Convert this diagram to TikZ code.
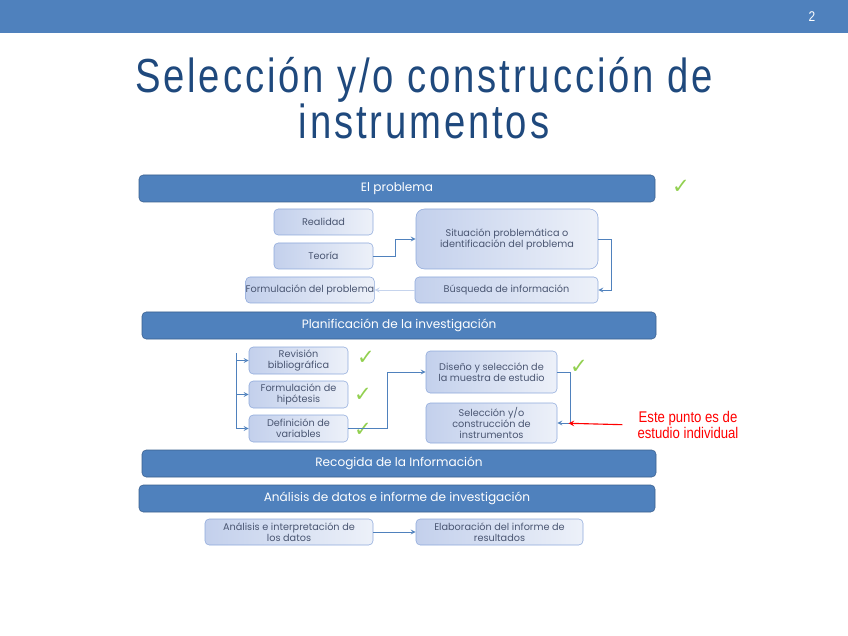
\documentclass[tikz,border=0pt]{standalone}
\usepackage{fontspec}
\setmainfont{Poppins}
\newfontfamily\titlefont[FakeStretch=0.8, LetterSpace=6]{Liberation Sans}
\newfontfamily\notefont[FakeStretch=0.85]{Liberation Sans}
\newfontfamily\symfont{DejaVu Sans}
\definecolor{barblue}{HTML}{4F81BD}
\definecolor{bardark}{HTML}{3A5F8E}
\definecolor{titleblue}{HTML}{1F497D}
\definecolor{boxline}{HTML}{8EA9DB}
\definecolor{boxleft}{HTML}{C3D0EC}
\definecolor{boxright}{HTML}{EDF1F9}
\definecolor{boxtext}{HTML}{4A5672}
\definecolor{tickgreen}{HTML}{92D050}
\definecolor{notered}{HTML}{FF0000}
\begin{document}
\begin{tikzpicture}
	[x=0.025cm, y=-0.025cm,
	sz/.style 2 args = {minimum width=#1*0.025cm, minimum height=#2*0.025cm},
	bar/.style = {draw=bardark, fill=barblue, rounded corners=3pt, inner sep=0pt,
		text=white, font=\fontsize{8.6}{10}\selectfont},
	box/.style = {draw=boxline, left color=boxleft, right color=boxright,
		rounded corners=3pt, inner sep=0pt, align=center, text=boxtext,
		font=\fontsize{6.9}{7.8}\selectfont},
	tick/.style = {text=tickgreen, font=\symfont\fontsize{15}{15}\selectfont},
	link/.style = {draw=barblue, semithick, ->, >=stealth}]
\useasboundingbox (0,0) rectangle (848,636);
% header
\fill[barblue] (0,0) rectangle (848,33);
\node[text=white, font=\notefont\fontsize{10}{12}\selectfont] (pag) at (812,17) {2};
\node[text=titleblue, align=center, font=\titlefont\fontsize{34}{33}\selectfont] (titulo) at (424,98)
	{Selección y/o construcción de\\instrumentos};
% el problema
\node[bar, sz={516}{27}] (prob) at (397,188.5) {El problema};
\node[tick] (t0) at (681,187) {✓};
\node[box, sz={99}{26}] (real) at (323.5,222) {Realidad};
\node[box, sz={99}{26}] (teo) at (323.5,256) {Teoría};
\node[box, sz={182}{60}, rounded corners=6pt] (sit) at (507,239) {Situación problemática o\\identificación  del problema};
\node[box, sz={124}{26}] (form) at (310,290) {Formulación del problema};
\node[box, sz={183}{26}] (bus) at (506.5,290) {Búsqueda de información};
\draw[link] (teo.east) -- ++(22,0) |- (sit.west);
\draw[link] (sit.east) -- ++(13,0) |- (bus.east);
\draw[link, draw=boxline!50] (bus.west) -- (form.east);
% planificacion
\node[bar, sz={514}{27}] (plan) at (399,325.5) {Planificación de la investigación};
\node[box, sz={99}{27}] (rev) at (298.5,360.5) {Revisión\\bibliográfica};
\node[box, sz={99}{27}] (hip) at (298.5,394.5) {Formulación de\\hipótesis};
\node[box, sz={99}{27}] (var) at (298.5,428.5) {Definición de\\variables};
\node[tick] (t1) at (366,358) {✓};
\node[tick] (t2) at (363,395) {✓};
\node[tick] (t3) at (363,430) {✓};
\coordinate (brk) at (236,353);
\draw[link] (brk) |- (rev.west);
\draw[link] (brk) |- (hip.west);
\draw[link] (brk) |- (var.west);
\node[box, sz={131}{42}] (dis) at (491.5,372) {Diseño y selección de\\la muestra de estudio};
\node[box, sz={131}{40}] (ins) at (491.5,423) {Selección y/o\\construcción de\\instrumentos};
\node[tick] (t4) at (579,367) {✓};
\draw[link] (var.east) -- ++(39,0) |- (dis.west);
\draw[link] (dis.east) -- ++(13,0) |- (ins.east);
\node[text=notered, align=center, inner sep=2pt, font=\notefont\fontsize{11}{12}\selectfont] (nota) at (688,425)
	{Este punto es de\\estudio individual};
\draw[notered, thick, ->, >=stealth, shorten <=0.3cm, shorten >=0.28cm] (nota.west) -- (ins.east);
% recogida y analisis
\node[bar, sz={514}{27}] (rec) at (399,463.5) {Recogida de la Información};
\node[bar, sz={516}{27}] (ana) at (397,498.5) {Análisis de datos e informe de investigación};
\node[box, sz={168}{26}] (int) at (289,532) {Análisis e interpretación de\\los datos};
\node[box, sz={167}{26}] (ela) at (499.5,532) {Elaboración del informe de\\resultados};
\draw[link] (int.east) -- (ela.west);
\end{tikzpicture}
\end{document}
